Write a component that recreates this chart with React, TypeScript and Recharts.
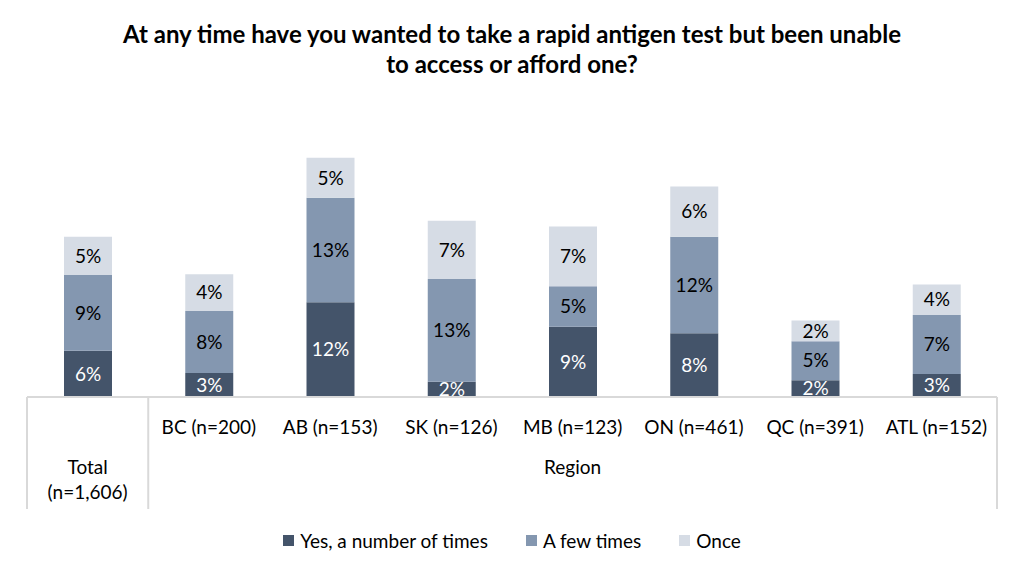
import React from "react";
import { BarChart, Bar, XAxis, YAxis, Legend, LabelList } from "recharts";

const CATEGORIES = ["Total", "BC (n=200)", "AB (n=153)", "SK (n=126)", "MB (n=123)", "ON (n=461)", "QC (n=391)", "ATL (n=152)"];

// estimated bar heights (%), labels as printed
const NUMBER_OF_TIMES = [5.8, 3.0, 11.9, 1.9, 8.8, 8.0, 2.1, 2.9];
const FEW_TIMES = [9.5, 7.8, 13.1, 12.9, 5.1, 12.1, 4.9, 7.4];
const ONCE = [4.8, 4.6, 5.0, 7.3, 7.5, 6.3, 2.6, 3.8];

const NUMBER_LABELS = ["6%", "3%", "12%", "2%", "9%", "8%", "2%", "3%"];
const FEW_LABELS = ["9%", "8%", "13%", "13%", "5%", "12%", "5%", "7%"];
const ONCE_LABELS = ["5%", "4%", "5%", "7%", "7%", "6%", "2%", "4%"];

const SERIES = [
  { key: "many", name: "Yes, a number of times", color: "#44546a" },
  { key: "few", name: "A few times", color: "#8497b0" },
  { key: "once", name: "Once", color: "#d6dce5" },
];
const LINE = "#d9d9d9";
const FONT = "Lato, 'Open Sans', sans-serif";
const FS = 19;

const data = CATEGORIES.map((name, i) => ({
  name,
  many: NUMBER_OF_TIMES[i],
  few: FEW_TIMES[i],
  once: ONCE[i],
  manyLabel: NUMBER_LABELS[i],
  fewLabel: FEW_LABELS[i],
  onceLabel: ONCE_LABELS[i],
}));

const CategoryTick = (props: any) => {
  const { x, y, payload, index } = props;
  const half = payload.offset ?? 60.6;
  const top = y - 8;
  if (index === 0) {
    return (
      <g>
        <line x1={x - half} y1={top} x2={x - half} y2={top + 112} stroke={LINE} strokeWidth={2} />
        <line x1={x + half} y1={top} x2={x + half} y2={top + 112} stroke={LINE} strokeWidth={2} />
        <text x={x} y={top + 77} textAnchor="middle" fontSize={FS} fill="#000" fontFamily={FONT}>Total</text>
        <text x={x} y={top + 102} textAnchor="middle" fontSize={FS} fill="#000" fontFamily={FONT}>(n=1,606)</text>
      </g>
    );
  }
  return (
    <g>
      <text x={x} y={top + 37} textAnchor="middle" fontSize={FS} fill="#000" fontFamily={FONT}>{payload.value}</text>
      {payload.value === "MB (n=123)" && (
        <text x={x} y={top + 77} textAnchor="middle" fontSize={FS} fill="#000" fontFamily={FONT}>Region</text>
      )}
      {index === CATEGORIES.length - 1 && (
        <line x1={x + half} y1={top} x2={x + half} y2={top + 112} stroke={LINE} strokeWidth={2} />
      )}
    </g>
  );
};

const LegendContent = () => (
  <div style={{ display: "flex", justifyContent: "center", gap: 38, fontFamily: FONT, fontSize: FS, color: "#000" }}>
    {SERIES.map((s) => (
      <div key={s.key} style={{ display: "flex", alignItems: "center", gap: 6 }}>
        <span style={{ width: 11, height: 11, background: s.color, display: "inline-block" }} />
        <span>{s.name}</span>
      </div>
    ))}
  </div>
);

export default function App() {
  return (
    <div style={{ position: "absolute", left: 0, top: 0, width: 1024, height: 577, background: "#fff" }}>
      <div
        style={{
          position: "absolute",
          top: 19,
          left: 0,
          width: 1024,
          textAlign: "center",
          fontFamily: FONT,
          fontWeight: 700,
          fontSize: 24,
          lineHeight: "30px",
        }}
      >
        At any time have you wanted to take a rapid antigen test but been unable
        <br />
        to access or afford one?
      </div>
      <BarChart
        width={1024}
        height={577}
        data={data}
        margin={{ top: 118, right: 27, bottom: 133, left: 27 }}
        barSize={48}
      >
        <XAxis
          dataKey="name"
          axisLine={{ stroke: LINE, strokeWidth: 2 }}
          tickLine={false}
          tick={<CategoryTick />}
          interval={0}
          height={24}
        />
        <YAxis hide domain={[0, 35]} />
        <Legend
          verticalAlign="bottom"
          content={<LegendContent />}
          wrapperStyle={{ top: 529, left: 0, width: 1024 }}
        />
        {SERIES.map((s) => (
          <Bar key={s.key} dataKey={s.key} name={s.name} stackId="a" fill={s.color} isAnimationActive={false}>
            <LabelList
              dataKey={`${s.key}Label`}
              position="center"
              fill={s.key === "many" ? "#fff" : "#000"}
              fontSize={FS}
              fontFamily={FONT}
            />
          </Bar>
        ))}
      </BarChart>
    </div>
  );
}
